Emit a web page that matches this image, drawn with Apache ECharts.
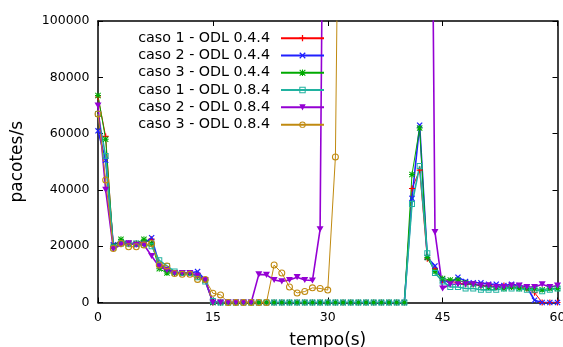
<!DOCTYPE html>
<html>
<head>
<meta charset="utf-8">
<script src="https://cdn.jsdelivr.net/npm/echarts@6/dist/echarts.min.js"></script>
<style>
html,body{margin:0;padding:0;background:#fff;}
#chart{width:563px;height:347px;}
</style>
</head>
<body>
<div id="chart"></div>
<script>
const times = [0,1,2,3,4,5,6,7,8,9,10,11,12,13,14,15,16,17,18,19,20,21,22,23,24,25,26,27,28,29,30,31,32,33,34,35,36,37,38,39,40,41,42,43,44,45,46,47,48,49,50,51,52,53,54,55,56,57,58,59,60];
const seriesNames = ['caso 1 - ODL 0.4.4','caso 2 - ODL 0.4.4','caso 3 - ODL 0.4.4','caso 1 - ODL 0.8.4','caso 2 - ODL 0.8.4','caso 3 - ODL 0.8.4'];
const xTicks = [0,15,30,45,60];
const yTicks = [0,20000,40000,60000,80000,100000];

const caso1_044 = [73000,59000,19500,21500,21000,21000,21500,22500,13000,11500,
  10500,10500,10500,9500,8000,0,0,0,0,0,
  0,0,0,0,0,0,0,0,0,0,
  0,0,0,0,0,0,0,0,0,0,
  0,40500,47000,15500,12000,8000,7500,7000,6500,6500,
  6000,6000,5500,6000,5500,5500,5000,3500,0,0,
  0];
const caso2_044 = [61000,50500,20500,21500,21000,20500,21000,23000,13500,12000,
  10500,10500,10500,11000,8000,0,0,0,0,0,
  0,0,0,0,0,0,0,0,0,0,
  0,0,0,0,0,0,0,0,0,0,
  0,37000,63000,16000,13000,8000,7000,9000,7500,7000,
  7000,6500,6500,6000,6500,6000,5500,800,0,0,
  0];
const caso3_044 = [73500,58000,20000,22500,21000,21000,22500,21000,12000,10500,
  10500,10500,10500,9500,8000,0,0,0,0,0,
  0,0,0,0,0,0,0,0,0,0,
  0,0,0,0,0,0,0,0,0,0,
  0,45500,62000,16000,11000,8500,8000,8000,7000,6500,
  6000,5500,5500,5000,5500,5000,5000,5000,4500,5000,
  5000];
const caso1_084 = [67000,52000,19500,21000,21000,21000,20500,20000,15000,13000,
  11000,10500,10500,9000,7500,500,0,0,0,0,
  0,0,0,0,0,0,0,0,0,0,
  0,0,0,0,0,0,0,0,0,0,
  0,35000,48500,17500,10500,7500,5500,5500,5000,5000,
  4500,4500,4500,5000,5000,5000,4500,4500,4000,4500,
  5000];
const caso2_084 = [70000,40000,19000,20500,21000,20500,20500,16500,12700,11500,
  10500,10500,10500,9500,8000,0,0,0,0,0,
  0,10000,9800,8000,7500,8000,9000,8000,7800,26000,
  360000,350000,350000,350000,350000,350000,350000,350000,350000,350000,
  350000,350000,350000,360000,25000,5000,6500,6500,6500,6500,
  6000,6000,5500,5500,6000,6000,5500,5500,6500,5500,
  6000];
const caso3_084 = [67000,43500,19200,21000,19800,19800,20400,21000,13300,13000,
  10300,10000,10000,8200,8200,3300,2700,0,0,0,
  0,0,0,13300,10500,5500,3400,3900,5200,5000,
  4400,51700,300000,300000,300000,300000,300000,300000,300000,300000,
  300000,300000,300000,300000,300000,300000,300000,300000,300000,300000,
  300000,300000,300000,300000,300000,300000,300000,300000,300000,300000,
  300000];

const allValues = [caso1_044, caso2_044, caso3_044, caso1_084, caso2_084, caso3_084];
const colors = ['#ff0000','#2020ff','#00aa00','#20b2a0','#9400d3','#c08a10'];
const widths = [1,1.6,1,1.6,1.6,1];
const symbols = [
  'path://M4,0H6V4H10V6H6V10H4V6H0V4H4Z',
  'path://M1.4,0L5,3.6L8.6,0L10,1.4L6.4,5L10,8.6L8.6,10L5,6.4L1.4,10L0,8.6L3.6,5L0,1.4Z',
  'path://M4.2,0H5.8V4.2H10V5.8H5.8V10H4.2V5.8H0V4.2H4.2Z M1.2,0L5,3.8L8.8,0L10,1.2L6.2,5L10,8.8L8.8,10L5,6.2L1.2,10L0,8.8L3.8,5L0,1.2Z',
  'path://M0,0H10V10H0Z M1.6,1.6V8.4H8.4V1.6Z',
  'path://M0,0H10L5,8.7Z',
  'path://M5,0A5,5,0,1,1,5,10A5,5,0,1,1,5,0Z M5,1.5A3.5,3.5,0,1,0,5,8.5A3.5,3.5,0,1,0,5,1.5Z'
];
const sizes = [6,6,6,6,7,7];

const FONT = 'DejaVu Sans';
const chart = echarts.init(document.getElementById('chart'), null, {renderer:'canvas'});

const series = allValues.map((vals, i) => ({
  name: seriesNames[i],
  type: 'line',
  data: times.map((t, k) => [t, vals[k]]),
  symbol: symbols[i],
  symbolSize: sizes[i],
  symbolKeepAspect: true,
  showAllSymbol: true,
  clip: true,
  color: colors[i],
  lineStyle: {color: colors[i], width: widths[i]},
  itemStyle: {color: colors[i]},
  emphasis: {disabled: true},
  animation: false
}));

const axisCommon = {
  min: 0,
  axisLine: {show: true, onZero: false, lineStyle: {color: '#000', width: 1.5}},
  axisTick: {show: true, inside: true, length: 5, lineStyle: {color: '#000', width: 1}},
  splitLine: {show: false}
};

chart.setOption({
  animation: false,
  backgroundColor: '#fff',
  textStyle: {fontFamily: FONT},
  grid: {left: 98, right: 5.5, top: 21, bottom: 44.5, containLabel: false, outerBoundsMode: 'none'},
  legend: {
    orient: 'vertical',
    right: 238,
    top: 29.5,
    padding: 0,
    align: 'right',
    itemWidth: 43,
    itemHeight: 8,
    itemGap: 0,
    data: seriesNames,
    textStyle: {fontFamily: FONT, fontSize: 14.3, color: '#000', lineHeight: 17.3, padding: [0, 6, 0, 0]},
    selectedMode: false
  },
  xAxis: [
    Object.assign({}, axisCommon, {
      type: 'value', max: 60, interval: 15, position: 'bottom',
      name: 'tempo(s)', nameLocation: 'middle', nameGap: 30,
      nameTextStyle: {fontFamily: FONT, fontSize: 17, color: '#000'},
      axisLabel: {fontFamily: FONT, fontSize: 12.5, color: '#000', margin: 9,
        formatter: v => xTicks.includes(v) ? String(v) : ''}
    }),
    Object.assign({}, axisCommon, {
      type: 'value', max: 60, interval: 15, position: 'top',
      axisLabel: {show: false}
    })
  ],
  yAxis: [
    Object.assign({}, axisCommon, {
      type: 'value', max: 100000, interval: 20000, position: 'left',
      name: 'pacotes/s', nameLocation: 'middle', nameGap: 72, nameRotate: 90,
      nameTextStyle: {fontFamily: FONT, fontSize: 17, color: '#000'},
      axisLabel: {fontFamily: FONT, fontSize: 12.5, color: '#000', margin: 8.5,
        formatter: v => yTicks.includes(v) ? String(v) : ''}
    }),
    Object.assign({}, axisCommon, {
      type: 'value', max: 100000, interval: 20000, position: 'right',
      axisLabel: {show: false}
    })
  ],
  series: series
});
</script>
</body>
</html>
